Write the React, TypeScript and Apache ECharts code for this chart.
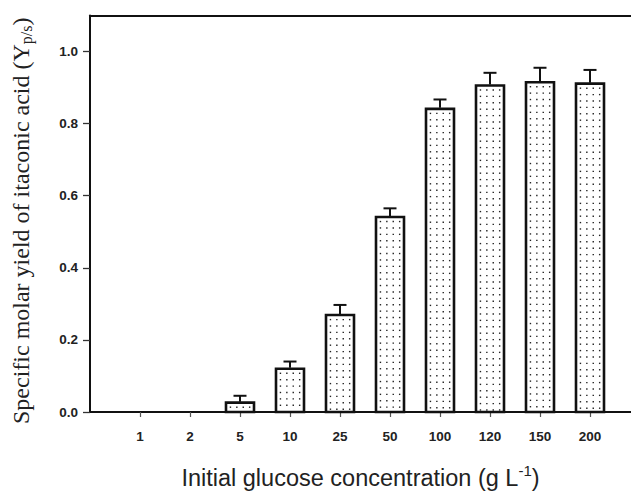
import React, { useEffect, useRef } from "react";
import * as echarts from "echarts";

const categories = ["1", "2", "5", "10", "25", "50", "100", "120", "150", "200"];
const yields = [0, 0, 0.026, 0.12, 0.269, 0.541, 0.841, 0.906, 0.915, 0.911];
const errors = [0, 0, 0.019, 0.02, 0.028, 0.024, 0.026, 0.035, 0.04, 0.038];
const yTicks = [0, 0.2, 0.4, 0.6, 0.8, 1.0];

export default function App() {
  const ref = useRef<HTMLDivElement>(null);
  useEffect(() => {
    if (!ref.current) return;
    const chart = echarts.init(ref.current, null, { renderer: "svg" });
    const data = categories.map((c, i) => [i + 1, yields[i], errors[i]]);
    const positions = categories.map((_, i) => i + 1);

    const renderItem = (params: any, api: any) => {
      const x = api.value(0);
      const v = api.value(1);
      const e = api.value(2);
      if (!(v > 0)) return { type: "group", children: [] };
      const base = api.coord([x, 0]);
      const top = api.coord([x, v]);
      const errTop = api.coord([x, v + e]);
      const unit = api.size([1, 0])[0];
      const w = unit * 0.56;
      const cx = base[0];
      const children: any[] = [];
      children.push({
        type: "rect",
        shape: { x: cx - w / 2, y: top[1], width: w, height: base[1] - top[1] },
        style: { fill: "#fff", stroke: "#111", lineWidth: 2.6 },
      });
      const step = 6.4;
      const cols = [-1.5, -0.5, 0.5, 1.5].map((k) => cx + k * step);
      for (let yy = top[1] + 4.5; yy < base[1] - 1.5; yy += step) {
        for (const xx of cols) {
          children.push({
            type: "rect",
            shape: { x: xx - 0.65, y: yy - 0.65, width: 1.4, height: 1.4 },
            style: { fill: "#222" },
          });
        }
      }
      children.push({
        type: "line",
        shape: { x1: cx, y1: top[1] - 1, x2: cx, y2: errTop[1] },
        style: { stroke: "#111", lineWidth: 2 },
      });
      children.push({
        type: "line",
        shape: { x1: cx - 6.5, y1: errTop[1], x2: cx + 6.5, y2: errTop[1] },
        style: { stroke: "#111", lineWidth: 2 },
      });
      return { type: "group", children };
    };

    chart.setOption({
      animation: false,
      grid: { left: 90, top: 15.5, right: 0, bottom: 80, outerBoundsMode: "none", containLabel: false },
      xAxis: [
        {
          type: "value",
          min: 0,
          max: 10.82,
          interval: 1,
          splitLine: { show: false },
          axisLine: { onZero: false, lineStyle: { color: "#111", width: 2 } },
          axisTick: {
            customValues: positions,
            length: 5,
            lineStyle: { color: "#555", width: 1.2 },
          },
          axisLabel: {
            customValues: positions,
            formatter: (v: number) => categories[Math.round(v) - 1] ?? "",
            margin: 17,
            fontFamily: "Liberation Sans",
            fontWeight: "bold",
            fontSize: 13.5,
            color: "#222",
          },
          name: "{a|Initial glucose concentration (g L}{sup|-1}{a|)}",
          nameLocation: "middle",
          nameGap: 51,
          nameTextStyle: {
            rich: {
              a: { fontFamily: "Liberation Sans", fontSize: 23.5, color: "#222", lineHeight: 27, verticalAlign: "bottom" },
              sup: { fontFamily: "Liberation Sans", fontSize: 15, color: "#222", lineHeight: 17, verticalAlign: "top" },
            },
          },
        },
        {
          type: "value",
          position: "top",
          min: 0,
          max: 10.82,
          axisLine: { show: true, onZero: false, lineStyle: { color: "#111", width: 2 } },
          axisTick: { show: false },
          axisLabel: { show: false },
          splitLine: { show: false },
        },
      ],
      yAxis: {
        type: "value",
        min: 0,
        max: 1.1,
        interval: 0.2,
        splitLine: { show: false },
        axisLine: { show: true, lineStyle: { color: "#111", width: 2 } },
        axisTick: {
          customValues: yTicks,
          length: 7,
          lineStyle: { color: "#333", width: 1.3 },
        },
        axisLabel: {
          customValues: yTicks,
          formatter: (v: number) => v.toFixed(1),
          margin: 12,
          fontFamily: "Liberation Sans",
          fontWeight: "bold",
          fontSize: 13.5,
          color: "#222",
        },
        name: "{a|Specific molar yield of itaconic acid (Y}{sub|p/s}{a|)}",
        nameLocation: "middle",
        nameRotate: 90,
        nameGap: 54,
        nameTextStyle: {
          padding: [0, 14, 0, 0],
          rich: {
            a: { fontFamily: "Liberation Serif", fontSize: 24, color: "#222", lineHeight: 30, verticalAlign: "middle" },
            sub: { fontFamily: "Liberation Serif", fontSize: 16, color: "#222", lineHeight: 16, verticalAlign: "bottom", padding: [0, 0, 2, 0] },
          },
        },
      },
      series: [
        {
          type: "custom",
          xAxisIndex: 0,
          renderItem,
          data,
          encode: { x: 0, y: 1 },
          clip: false,
        },
      ],
    });
    return () => chart.dispose();
  }, []);
  return <div ref={ref} style={{ width: 631, height: 492, position: "absolute", left: 0, top: 0, background: "#fff" }} />;
}
